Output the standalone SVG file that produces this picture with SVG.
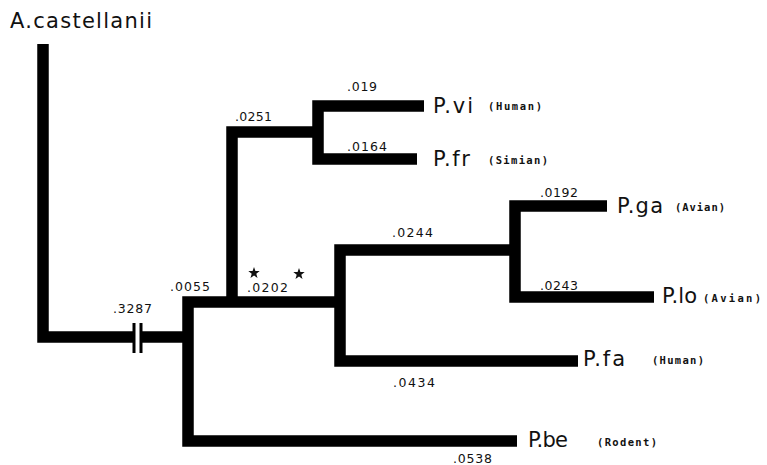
<svg xmlns="http://www.w3.org/2000/svg" width="767" height="465" viewBox="0 0 767 465">
<defs>
<style>
.br{fill:none;stroke:#000;stroke-width:11.5;stroke-linejoin:miter;stroke-linecap:butt}
.bk{fill:none;stroke:#000;stroke-width:3}
.tx{font-family:"DejaVu Sans","Liberation Sans",Arial,sans-serif;font-size:21px;fill:#111}
.num{font-family:"DejaVu Sans","Liberation Sans",Arial,sans-serif;font-size:12.5px;fill:#111}
.host{font-family:"DejaVu Sans Mono","Liberation Mono",monospace;font-size:10.5px;font-weight:bold;fill:#111}
</style>
<polygon id="star" points="0,-6 1.4,-1.9 5.7,-1.9 2.3,0.7 3.5,4.9 0,2.4 -3.5,4.9 -2.3,0.7 -5.7,-1.9 -1.4,-1.9" fill="#111"/>
</defs>
<rect width="767" height="465" fill="#fff"/>
<g id="connectors">
<path class="br" d="M43,44 V337 H133"/>
<path class="br" d="M141,337 H188"/>
<path class="br" d="M340,302 H188 V441 H517"/>
<path class="br" d="M232,302 V132 H318"/>
<path class="br" d="M424,106 H318 V159 H417"/>
<path class="br" d="M515,250 H340 V361 H578"/>
<path class="br" d="M607,206 H515 V297 H654"/>
<path class="bk" d="M134,323 V353 M141,323 V353"/>
</g>
<g id="labels">
<text class="num" x="113" y="313" textLength="39" lengthAdjust="spacing">.3287</text>
<text class="num" x="170" y="291" textLength="40" lengthAdjust="spacing">.0055</text>
<text class="num" x="247" y="292" textLength="41" lengthAdjust="spacing">.0202</text>
<use href="#star" x="254" y="273"/>
<use href="#star" x="299" y="274"/>
<text class="num" x="235" y="121" textLength="37" lengthAdjust="spacing">.0251</text>
<text class="num" x="347" y="91" textLength="30" lengthAdjust="spacing">.019</text>
<text class="num" x="347" y="151" textLength="40" lengthAdjust="spacing">.0164</text>
<text class="num" x="392" y="237" textLength="41" lengthAdjust="spacing">.0244</text>
<text class="num" x="540" y="197" textLength="38" lengthAdjust="spacing">.0192</text>
<text class="num" x="540" y="290" textLength="38" lengthAdjust="spacing">.0243</text>
<text class="num" x="393" y="387" textLength="42" lengthAdjust="spacing">.0434</text>
<text class="num" x="453" y="463" textLength="39" lengthAdjust="spacing">.0538</text>
</g>
<g id="node-acastellanii"><text class="tx" x="10" y="28" textLength="142" lengthAdjust="spacing">A.castellanii</text></g>
<g id="node-pvi"><text class="tx" x="433" y="113" textLength="40" lengthAdjust="spacing">P.vi</text><text class="host" x="488" y="110" textLength="54" lengthAdjust="spacing">(Human)</text></g>
<g id="node-pfr"><text class="tx" x="433" y="166" textLength="37" lengthAdjust="spacing">P.fr</text><text class="host" x="488" y="164" textLength="60" lengthAdjust="spacing">(Simian)</text></g>
<g id="node-pga"><text class="tx" x="617" y="213" textLength="46" lengthAdjust="spacing">P.ga</text><text class="host" x="675" y="211" textLength="50" lengthAdjust="spacing">(Avian)</text></g>
<g id="node-plo"><text class="tx" x="662" y="303" textLength="35" lengthAdjust="spacing">P.lo</text><text class="host" x="703" y="302" textLength="58" lengthAdjust="spacing">(Avian)</text></g>
<g id="node-pfa"><text class="tx" x="583" y="366" textLength="42" lengthAdjust="spacing">P.fa</text><text class="host" x="652" y="364" textLength="52" lengthAdjust="spacing">(Human)</text></g>
<g id="node-pbe"><text class="tx" x="528" y="447" textLength="40" lengthAdjust="spacing">P.be</text><text class="host" x="597" y="446" textLength="60" lengthAdjust="spacing">(Rodent)</text></g>
</svg>
